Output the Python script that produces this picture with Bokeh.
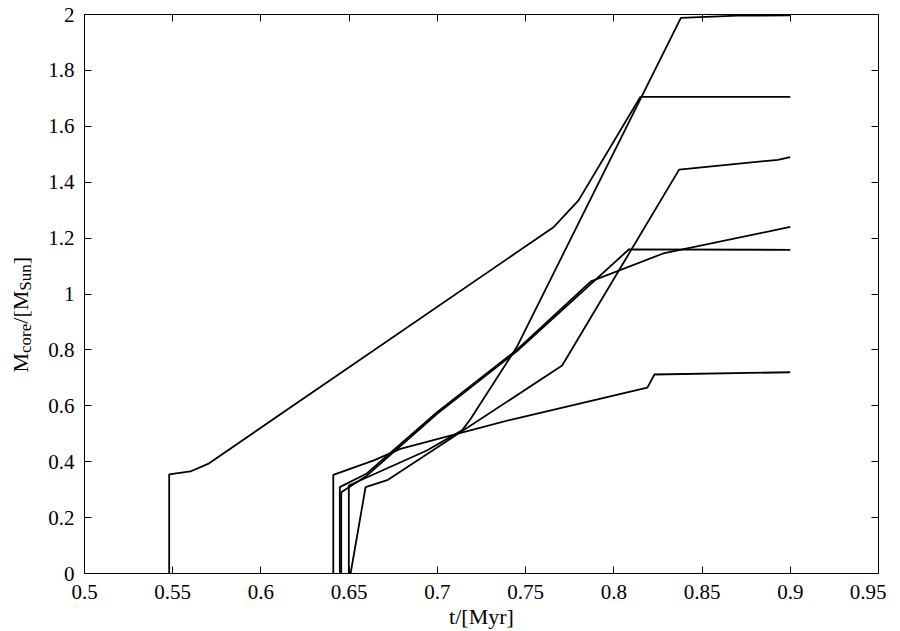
from bokeh.plotting import figure
from bokeh.layouts import row
from bokeh.models import Range1d, LinearAxis, FixedTicker, ColumnDataSource, CustomJSTickFormatter
from bokeh.core.properties import value
from bokeh.embed import file_html
from bokeh.resources import INLINE
import math

# ---- data (t in Myr, core mass in M_sun) ----
A_t = [0.548, 0.548, 0.560, 0.570, 0.766, 0.780, 0.815, 0.900]
A_m = [0.000, 0.355, 0.365, 0.392, 1.240, 1.335, 1.705, 1.705]

C_t = [0.6498, 0.6498, 0.694, 0.714, 0.7188, 0.745, 0.838, 0.870, 0.900]
C_m = [0.000, 0.315, 0.440, 0.512, 0.553, 0.810, 1.988, 1.996, 1.997]

D_t = [0.6508, 0.6593, 0.672, 0.7707, 0.837, 0.893, 0.900]
D_m = [0.000, 0.309, 0.335, 0.744, 1.445, 1.480, 1.490]

E_t = [0.6447, 0.6447, 0.660, 0.700, 0.745, 0.787, 0.828, 0.900]
E_m = [0.000, 0.309, 0.358, 0.578, 0.800, 1.045, 1.145, 1.240]

G_t = [0.6455, 0.6455, 0.660, 0.700, 0.745, 0.8086, 0.900]
G_m = [0.000, 0.291, 0.350, 0.572, 0.795, 1.160, 1.158]

F_t = [0.641, 0.641, 0.664, 0.679, 0.7415, 0.819, 0.823, 0.900]
F_m = [0.000, 0.353, 0.405, 0.446, 0.550, 0.665, 0.712, 0.720]

x_ticks = [0.5, 0.55, 0.6, 0.65, 0.7, 0.75, 0.8, 0.85, 0.9, 0.95]
x_tick_labels = ["0.5", "0.55", "0.6", "0.65", "0.7", "0.75", "0.8", "0.85", "0.9", "0.95"]
y_ticks = [0, 0.2, 0.4, 0.6, 0.8, 1.0, 1.2, 1.4, 1.6, 1.8, 2.0]
y_tick_labels = ["0", "0.2", "0.4", "0.6", "0.8", "1", "1.2", "1.4", "1.6", "1.8", "2"]

x_label = "t/[Myr]"
y_label_parts = [("M", False), ("core", True), ("/[M", False), ("Sun", True), ("]", False)]

FONT = "Liberation Serif"
FS_TICK = "21px"
FS_LAB = 22
FS_SUB = 17

TOTAL_H = 631
LABEL_W = 62          # side panel width
OVERLAP = 32          # main plot slides over the (empty) right part of the side panel
FRAME_W, FRAME_H = 794, 559
BORDER_L, BORDER_T = 84 - (LABEL_W - OVERLAP), 14

p = figure(width=BORDER_L + FRAME_W + 8, height=TOTAL_H, frame_width=FRAME_W, frame_height=FRAME_H,
           x_range=Range1d(0.5, 0.95), y_range=Range1d(0, 2),
           output_backend="svg", toolbar_location=None,
           min_border_left=BORDER_L, min_border_top=BORDER_T,
           min_border_right=8, min_border_bottom=58)
p.margin = (0, 0, 0, -OVERLAP)
p.background_fill_color = "white"
p.border_fill_color = None
p.outline_line_color = "black"
p.outline_line_width = 1
p.xgrid.visible = False
p.ygrid.visible = False

def style_axis(ax, ticks, labels, show_labels):
    ax.ticker = FixedTicker(ticks=ticks)
    ax.major_tick_in = 7
    ax.major_tick_out = 0
    ax.minor_tick_line_color = None
    ax.axis_line_color = "black"
    ax.major_tick_line_color = "black"
    ax.major_label_text_font = FONT
    ax.major_label_text_color = "black"
    if show_labels:
        ax.major_label_overrides = {t: l for t, l in zip(ticks, labels)}
        ax.major_label_text_font_size = FS_TICK
        ax.major_label_standoff = 11
    else:
        ax.formatter = CustomJSTickFormatter(code="return ''")
        ax.major_label_text_font_size = "1px"
        ax.major_label_standoff = 0

style_axis(p.xaxis[0], x_ticks, x_tick_labels, True)
style_axis(p.yaxis[0], y_ticks, y_tick_labels, True)
p.yaxis[0].major_label_standoff = 10
p.xaxis[0].axis_label = x_label
p.xaxis[0].axis_label_text_font = FONT
p.xaxis[0].axis_label_text_font_size = f"{FS_LAB}px"
p.xaxis[0].axis_label_text_font_style = "normal"
p.xaxis[0].axis_label_text_color = "black"
p.xaxis[0].axis_label_standoff = 2

top = LinearAxis()
style_axis(top, x_ticks, x_tick_labels, False)
p.add_layout(top, "above")
right = LinearAxis()
style_axis(right, y_ticks, y_tick_labels, False)
p.add_layout(right, "right")

for t, m in [(A_t, A_m), (C_t, C_m), (D_t, D_m), (E_t, E_m), (G_t, G_m), (F_t, F_m)]:
    src = ColumnDataSource(data=dict(t=t, m=m))
    p.line("t", "m", source=src, line_color="black", line_width=1.8)

# ---- side panel holding the rotated y-axis title with subscripts ----
lp = figure(width=LABEL_W, height=TOTAL_H, frame_width=LABEL_W, frame_height=TOTAL_H,
            x_range=Range1d(0, LABEL_W), y_range=Range1d(0, TOTAL_H),
            x_axis_type=None, y_axis_type=None,
            output_backend="svg", toolbar_location=None,
            min_border=0)
lp.outline_line_color = None
lp.background_fill_color = "white"
lp.border_fill_color = "white"
lp.xgrid.visible = False
lp.ygrid.visible = False

em = {"M": 0.889, "c": 0.444, "o": 0.5, "r": 0.333, "e": 0.444, "/": 0.278,
      "[": 0.333, "]": 0.333, "S": 0.556, "u": 0.5, "n": 0.5}
pos = TOTAL_H - 358
main_x, main_y, main_t = [], [], []
sub_x, sub_y, sub_t = [], [], []
for txt, sub in y_label_parts:
    fs = FS_SUB if sub else FS_LAB
    if sub:
        sub_x.append(25); sub_y.append(pos); sub_t.append(txt)
    else:
        main_x.append(20); main_y.append(pos); main_t.append(txt)
    pos += sum(em.get(ch, 0.5) for ch in txt) * fs

lp.text(x=main_x, y=main_y, text=main_t, angle=math.pi / 2,
        text_font=value(FONT), text_font_size=value(f"{FS_LAB}px"),
        text_color="black", text_align="left", text_baseline="alphabetic")
lp.text(x=sub_x, y=sub_y, text=sub_t, angle=math.pi / 2,
        text_font=value(FONT), text_font_size=value(f"{FS_SUB}px"),
        text_color="black", text_align="left", text_baseline="alphabetic")

layout = row(lp, p)
open("out.html", "w").write(file_html(layout, INLINE))
